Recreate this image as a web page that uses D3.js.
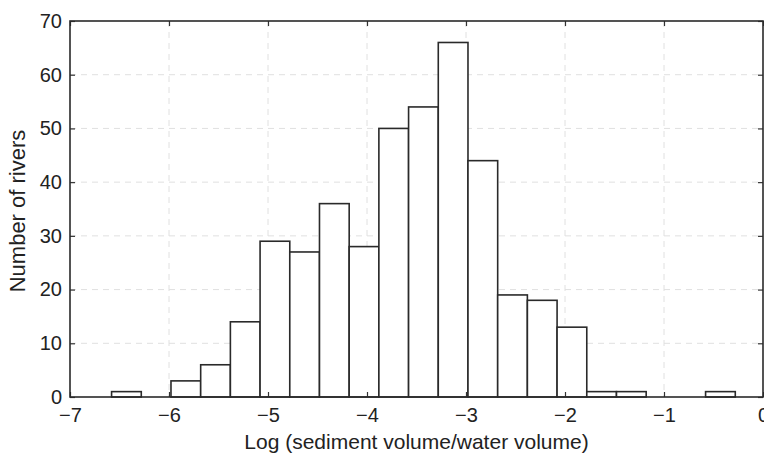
<!DOCTYPE html>
<html>
<head>
<meta charset="utf-8">
<script src="https://cdn.jsdelivr.net/npm/d3@7"></script>
<style>
  body { margin: 0; background: #fff; }
  svg { font-family: "Liberation Sans", Arial, sans-serif; }
</style>
</head>
<body>
<svg id="chart" width="764" height="454"></svg>
<script>
// histogram bins: left edge of first bin, bin width, counts
let binStart = -6.58;
let binWidth = 0.3;
let counts = [1, 0, 3, 6, 14, 29, 27, 36, 28, 50, 54, 66, 44, 19, 18, 13, 1, 1, 0, 0, 1];

let xTicks = [-7, -6, -5, -4, -3, -2, -1, 0];
let yTicks = [0, 10, 20, 30, 40, 50, 60, 70];

let xLabel = 'Log (sediment volume/water volume)';
let yLabel = 'Number of rivers';

let margin = {left: 70, right: 1, top: 21, bottom: 57};
let width = 764, height = 454;

let bins = counts.map((c, i) => ({x0: binStart + i*binWidth, x1: binStart + (i+1)*binWidth, n: c}));

let x = d3.scaleLinear().domain([-7, 0]).range([margin.left, width - margin.right]);
let y = d3.scaleLinear().domain([0, 70]).range([height - margin.bottom, margin.top]);

let svg = d3.select('#chart');

// faint grid
let grid = svg.append('g').attr('class', 'grid')
  .attr('stroke', '#e0e0e0')
  .attr('stroke-width', 1)
  .attr('stroke-dasharray', '6,5');

grid.selectAll('line.gx')
  .data(xTicks.slice(1, -1))
  .enter().append('line')
  .attr('x1', d => x(d)).attr('x2', d => x(d))
  .attr('y1', y(70)).attr('y2', y(0));

grid.selectAll('line.gy')
  .data(yTicks.slice(1, -1))
  .enter().append('line')
  .attr('class', 'gy')
  .attr('x1', x(-7)).attr('x2', x(0))
  .attr('y1', d => y(d)).attr('y2', d => y(d));

// bars
svg.append('g').attr('class', 'bars')
  .selectAll('rect')
  .data(bins)
  .enter().append('rect')
  .attr('x', d => x(d.x0))
  .attr('width', d => x(d.x1) - x(d.x0))
  .attr('y', d => y(d.n))
  .attr('height', d => y(0) - y(d.n))
  .attr('fill', '#fff')
  .attr('stroke', '#2a2a2a')
  .attr('stroke-width', 1.6);

// axes with inward ticks, box on
let tickLen = 5;
let minus = d => String(d).replace('-', '\u2212');

svg.append('g')
  .attr('transform', `translate(0,${y(0)})`)
  .call(d3.axisBottom(x).tickValues(xTicks).tickSizeInner(-tickLen).tickSizeOuter(0).tickPadding(11).tickFormat(minus))
  .call(g => g.select('.domain').remove());

svg.append('g')
  .attr('transform', `translate(${x(-7)},0)`)
  .call(d3.axisLeft(y).tickValues(yTicks).tickSizeInner(-tickLen).tickSizeOuter(0).tickPadding(8))
  .call(g => g.select('.domain').remove());

svg.append('g')
  .attr('transform', `translate(0,${y(70)})`)
  .call(d3.axisTop(x).tickValues(xTicks).tickSizeInner(-tickLen).tickSizeOuter(0).tickFormat(''))
  .call(g => g.select('.domain').remove());

svg.append('g')
  .attr('transform', `translate(${x(0)},0)`)
  .call(d3.axisRight(y).tickValues(yTicks).tickSizeInner(-tickLen).tickSizeOuter(0).tickFormat(''))
  .call(g => g.select('.domain').remove());

svg.selectAll('.tick line').attr('stroke', '#333').attr('stroke-width', 1.2);
svg.selectAll('.tick text').attr('font-size', 20).attr('fill', '#222');

svg.append('rect')
  .attr('x', x(-7)).attr('y', y(70))
  .attr('width', x(0) - x(-7)).attr('height', y(0) - y(70))
  .attr('fill', 'none').attr('stroke', '#2a2a2a').attr('stroke-width', 1.6);

// labels
svg.append('text')
  .attr('x', (x(-7) + x(0)) / 2)
  .attr('y', 449)
  .attr('text-anchor', 'middle')
  .attr('font-size', 21)
  .attr('fill', '#222')
  .text(xLabel);

svg.append('text')
  .attr('transform', `translate(25,${(y(0) + y(70)) / 2 + 2}) rotate(-90)`)
  .attr('text-anchor', 'middle')
  .attr('font-size', 22)
  .attr('fill', '#222')
  .text(yLabel);
</script>
</body>
</html>
